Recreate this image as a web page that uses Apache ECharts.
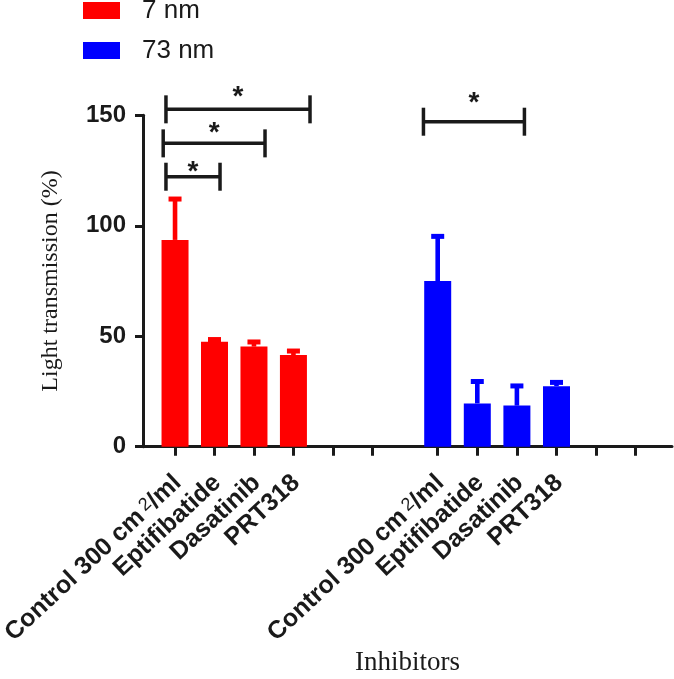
<!DOCTYPE html>
<html>
<head>
<meta charset="utf-8">
<script src="https://cdn.jsdelivr.net/npm/echarts@6/dist/echarts.min.js"></script>
<style>
html,body{margin:0;padding:0;background:#fff;}
#chart{width:674px;height:679px;}
</style>
</head>
<body>
<div id="chart"></div>
<script>
// ---- data ----
const categories = ['Control 300 cm²/ml', 'Eptifibatide', 'Dasatinib', 'PRT318', '', ''];
const seriesNames = ['7 nm', '73 nm'];
const mean7 = [93.6, 47.5, 45.3, 41.5];
const sd7 = [18.5, 1.0, 2.1, 1.8];
const mean73 = [75.0, 19.6, 18.6, 27.4];
const sd73 = [20.2, 9.9, 8.9, 1.7];
const yTicks = [0, 50, 100, 150];
// significance brackets: from/to in category units, y = bracket level, star = asterisk level
const brackets7 = [
  { from: -0.23, to: 3.42, y: 152.7, star: 161.5 },
  { from: -0.30, to: 2.28, y: 137.3, star: 144.9 },
  { from: -0.23, to: 1.14, y: 122.2, star: 127.5 }
];
const brackets73 = [
  { from: -0.36, to: 2.19, y: 147.1, star: 158.4 }
];
const yTitle = 'Light transmission (%)';
const xTitle = 'Inhibitors';

// ---- style ----
const RED = '#ff0000', BLUE = '#0000ff', INK = '#1a1a1a';
const SANS = '"Liberation Sans", Arial, sans-serif';
const SERIF = '"Liberation Serif", "Times New Roman", serif';

const chart = echarts.init(document.getElementById('chart'), null, { renderer: 'canvas' });

const plotTop = 115.3, plotBottom = 679 - 446.7;
const yMin = yTicks[0], yMax = yTicks[yTicks.length - 1], yStep = yTicks[1] - yTicks[0];

function catAxis(gridIndex) {
  return {
    type: 'category', gridIndex: gridIndex, data: categories,
    boundaryGap: true,
    axisLine: { show: false },
    axisTick: { show: true, alignWithLabel: true, interval: 0, length: 9, lineStyle: { width: 3, color: INK } },
    axisLabel: {
      interval: 0, rotate: 43, margin: 18,
      align: 'right', verticalAlign: 'top', padding: [0, 8, 0, 0],
      fontFamily: SANS, fontWeight: 'bold', fontSize: 25, color: INK,
      formatter: function (v) { return v.replace('²', '{sup|2}'); },
      rich: { sup: { fontFamily: SANS, fontSize: 18, fontWeight: 'normal', color: INK, verticalAlign: 'top', padding: [0, 0, 0, 4] } }
    },
    splitLine: { show: false }
  };
}
function hiddenValX(gridIndex) {
  return { type: 'value', gridIndex: gridIndex, min: -0.5, max: categories.length - 0.5, show: false };
}
function hiddenY(gridIndex) {
  return { type: 'value', gridIndex: gridIndex, min: yMin, max: yMax, show: false };
}

function errorSeries(name, xi, yi, means, sds, color) {
  return {
    type: 'custom', name: name, xAxisIndex: xi, yAxisIndex: yi, z: 3,
    data: means.map(function (m, i) { return [i, m, m + sds[i]]; }),
    renderItem: function (params, api) {
      const base = api.coord([api.value(0), api.value(1)]);
      const top = api.coord([api.value(0), api.value(2)]);
      return {
        type: 'group', children: [
          { type: 'rect', shape: { x: base[0] - 2.3, y: top[1], width: 4.6, height: base[1] - top[1] }, style: { fill: color } },
          { type: 'rect', shape: { x: base[0] - 6.5, y: top[1] - 2.5, width: 13, height: 5 }, style: { fill: color } }
        ]
      };
    }
  };
}

function bracketSeries(xi, yi, list) {
  return {
    type: 'custom', xAxisIndex: xi, yAxisIndex: yi, clip: false, z: 5, silent: true,
    data: list.map(function (b) { return [b.from, b.to, b.y, b.star]; }),
    renderItem: function (params, api) {
      const a = api.coord([api.value(0), api.value(2)]);
      const b = api.coord([api.value(1), api.value(2)]);
      const s = api.coord([(api.value(0) + api.value(1)) / 2, api.value(3)]);
      const ls = { stroke: INK, lineWidth: 3.5 };
      return {
        type: 'group', children: [
          { type: 'line', shape: { x1: a[0], y1: a[1], x2: b[0], y2: b[1] }, style: ls },
          { type: 'line', shape: { x1: a[0], y1: a[1] - 14, x2: a[0], y2: a[1] + 14 }, style: ls },
          { type: 'line', shape: { x1: b[0], y1: b[1] - 14, x2: b[0], y2: b[1] + 14 }, style: ls },
          { type: 'text', x: s[0], y: s[1] + 7, style: { text: '*', fill: INK, font: 'bold 28px ' + SANS, align: 'center', verticalAlign: 'middle' } }
        ]
      };
    }
  };
}

const gridBase = { top: plotTop, bottom: plotBottom, containLabel: false, outerBoundsMode: 'none' };

const option = {
  backgroundColor: '#ffffff',
  animation: false,
  legend: {
    data: seriesNames, orient: 'vertical', left: 83, top: -7.5, padding: 0,
    itemWidth: 37, itemHeight: 17, itemGap: 4, icon: 'rect',
    textStyle: { fontFamily: SANS, fontSize: 26, color: INK, lineHeight: 26, padding: [10, 0, 0, 17] }
  },
  grid: [
    Object.assign({ left: 143, right: 2 }, gridBase),
    Object.assign({ left: 155.3, width: 236.8 }, gridBase),
    Object.assign({ left: 417.9, width: 237.6 }, gridBase)
  ],
  xAxis: [
    { type: 'value', gridIndex: 0, min: 0, max: 1,
      axisLine: { show: true, onZero: false, lineStyle: { width: 3, color: INK } },
      axisTick: { show: false }, axisLabel: { show: false }, splitLine: { show: false },
      name: xTitle, nameLocation: 'middle', nameGap: 203,
      nameTextStyle: { fontFamily: SERIF, fontSize: 27, color: INK, verticalAlign: 'top' } },
    catAxis(1), hiddenValX(1),
    catAxis(2), hiddenValX(2)
  ],
  yAxis: [
    { type: 'value', gridIndex: 0, min: yMin, max: yMax, interval: yStep,
      axisLine: { show: true, lineStyle: { width: 3, color: INK } },
      axisTick: { show: true, length: 8, lineStyle: { width: 3, color: INK } },
      axisLabel: { margin: 17, fontFamily: SANS, fontWeight: 'bold', fontSize: 24, color: INK },
      splitLine: { show: false },
      name: yTitle, nameLocation: 'middle', nameGap: 80,
      nameTextStyle: { fontFamily: SERIF, fontSize: 24, color: INK } },
    hiddenY(1), hiddenY(2)
  ],
  series: [
    { type: 'bar', name: seriesNames[0], xAxisIndex: 1, yAxisIndex: 1, data: mean7, barWidth: 27, itemStyle: { color: RED }, z: 2 },
    { type: 'bar', name: seriesNames[1], xAxisIndex: 3, yAxisIndex: 2, data: mean73, barWidth: 27, itemStyle: { color: BLUE }, z: 2 },
    errorSeries('err7', 1, 1, mean7, sd7, RED),
    errorSeries('err73', 3, 2, mean73, sd73, BLUE),
    bracketSeries(2, 1, brackets7),
    bracketSeries(4, 2, brackets73)
  ]
};
chart.setOption(option);
</script>
</body>
</html>
